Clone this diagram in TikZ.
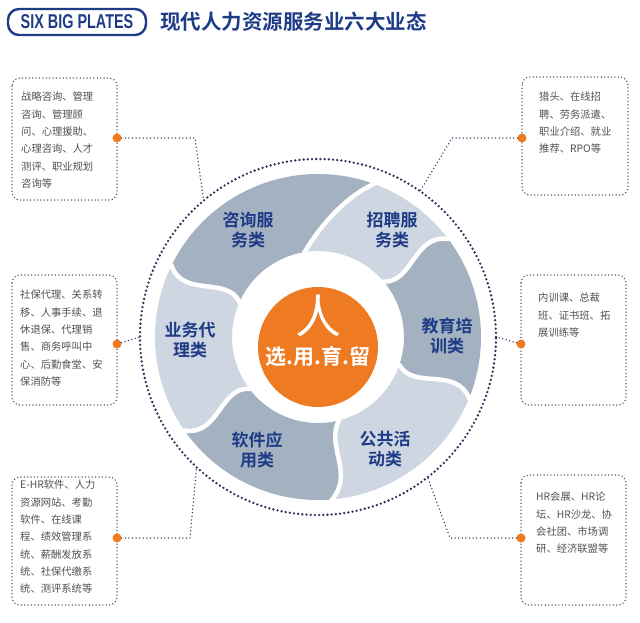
\documentclass[tikz,border=0pt]{standalone}
\usepackage{fontspec}
\setmainfont{Liberation Sans}
\newfontfamily\cjk{Noto Sans CJK SC}
\newfontfamily\cjkb{Noto Sans CJK SC Bold}
\definecolor{navy}{HTML}{1E3C86}
\definecolor{dotc}{HTML}{27355A}
\definecolor{segd}{HTML}{A3B1C1}
\definecolor{segl}{HTML}{CED6E1}
\definecolor{orng}{HTML}{EE7A22}
\definecolor{txtg}{HTML}{505050}
\begin{document}
\begin{tikzpicture}[x=1pt,y=-1pt,
  boxline/.style={draw=txtg!90!black,line width=1.5pt,dash pattern=on 0pt off 3.4pt,line cap=round,rounded corners=8pt},
  conn/.style={draw=dotc,line width=1.5pt,dash pattern=on 0pt off 3.6pt,line cap=round},
  boxtxt/.style={anchor=north west,align=left,inner sep=0pt,text=txtg,font=\cjk\fontsize{10.3}{17.3}\selectfont},
  seglab/.style={align=center,text=navy,inner sep=0pt,font=\cjkb\fontsize{17}{20.5}\selectfont},
  odot/.style={circle,fill=orng,inner sep=0pt,minimum size=9pt}]
\useasboundingbox (0,0) rectangle (640,622);
% title
\draw[navy,line width=2.4pt,rounded corners=11pt] (8,9) rectangle (146,35);
\node[text=navy,inner sep=0pt] (logo) at (77,22) {\scalebox{0.72}[1]{\fontsize{20}{20}\selectfont\bfseries SIX BIG PLATES}};
\node[anchor=west,text=navy,inner sep=0pt,font=\cjkb\fontsize{20.5}{22}\selectfont] (title) at (160,22) {现代人力资源服务业六大业态};
% ring
\begin{scope}[shift={(318,337)},x=1pt,y=1pt]
\def\ro{163}\def\ri{86}
\newcommand\dv[2]{(#1:\ro) .. controls (#1+10:140) and (#2-10:110) .. (#2:\ri)}
\newcommand\dvr[2]{(#2:\ri) .. controls (#2-10:110) and (#1+10:140) .. (#1:\ro)}
% 咨询 D1(70/99) D6(154/156)
\fill[segd] (70:\ro) arc[start angle=70,end angle=154,radius=\ro] .. controls (164:140) and (146:110) .. (156:\ri) arc[start angle=156,end angle=99,radius=\ri] .. controls (89:110) and (80:140) .. cycle;
% 招聘 D2(37/40) D1
\fill[segl] (37:\ro) arc[start angle=37,end angle=70,radius=\ro] .. controls (80:140) and (89:110) .. (99:\ri) arc[start angle=99,end angle=40,radius=\ri] .. controls (30:110) and (47:140) .. cycle;
% 教育 D3(-22/-19) D2
\fill[segd] (-22:\ro) arc[start angle=-22,end angle=37,radius=\ro] .. controls (47:140) and (30:110) .. (40:\ri) arc[start angle=40,end angle=-19,radius=\ri] .. controls (-29:110) and (-12:140) .. cycle;
% 公共 D4(-85/-76) D3
\fill[segl] (-85:\ro) arc[start angle=-85,end angle=-22,radius=\ro] .. controls (-12:140) and (-29:110) .. (-19:\ri) arc[start angle=-19,end angle=-76,radius=\ri] .. controls (-86:110) and (-75:140) .. cycle;
% 软件 D5(-145/-143) D4
\fill[segd] (-145:\ro) arc[start angle=-145,end angle=-85,radius=\ro] .. controls (-75:140) and (-86:110) .. (-76:\ri) arc[start angle=-76,end angle=-143,radius=\ri] .. controls (-153:110) and (-135:140) .. cycle;
% 业务 D6(154/156) D5
\fill[segl] (-206:\ro) arc[start angle=-206,end angle=-145,radius=\ro] .. controls (-135:140) and (-153:110) .. (-143:\ri) arc[start angle=-143,end angle=-204,radius=\ri] .. controls (-214:110) and (-196:140) .. cycle;
% gaps
\foreach \a/\b in {70/99,37/40,-22/-19,-85/-76,-145/-143,154/156}
  \draw[white,line width=4.5pt] (\a:\ro+3) -- (\a:\ro) .. controls (\a+10:140) and (\b-10:110) .. (\b:\ri) -- (\b:\ri-3);
\fill[orng] (0,-10) circle[radius=60];
\draw[dotc,line width=2.6pt,dash pattern=on 0pt off 4.2pt,line cap=round] (0,0) circle[radius=178];
\coordinate (c1) at (130:178);
\coordinate (c2) at (55:178);
\coordinate (c3) at (180:178);
\coordinate (c4) at (0:178);
\coordinate (c5) at (-133:178);
\coordinate (c6) at (-52:178);
\end{scope}
\node[text=white,inner sep=0pt,font=\cjk\fontsize{46}{46}\selectfont] (ren) at (318,316) {人};
\node[text=white,inner sep=0pt,font=\cjkb\fontsize{21}{22}\selectfont] (xy) at (318,356) {选.用.育.留};
\node[seglab] (s1) at (248,230) {咨询服\\务类};
\node[seglab] (s2) at (392,230) {招聘服\\务类};
\node[seglab] (s3) at (447,336) {教育培\\训类};
\node[seglab] (s4) at (385,449) {公共活\\动类};
\node[seglab] (s5) at (257,450) {软件应\\用类};
\node[seglab] (s6) at (190,340) {业务代\\理类};
% boxes
\draw[boxline] (12,78) rectangle (117,200);
\node[boxtxt] (t1) at (21,92) {战略咨询、管理\\咨询、管理顾\\问、心理援助、\\心理咨询、人才\\测评、职业规划\\咨询等};
\draw[boxline] (522,77) rectangle (628,195);
\node[boxtxt] (t2) at (539,92) {猎头、在线招\\聘、劳务派遣、\\职业介绍、就业\\推荐、RPO等};
\draw[boxline] (12,275) rectangle (117,405);
\node[boxtxt] (t3) at (20,290) {社保代理、关系转\\移、人事手续、退\\休退保、代理销\\售、商务呼叫中\\心、后勤食堂、安\\保消防等};
\draw[boxline] (521,275) rectangle (626,405);
\node[boxtxt] (t4) at (538,293) {内训课、总裁\\班、证书班、拓\\展训练等};
\draw[boxline] (12,477) rectangle (117,605);
\node[boxtxt] (t5) at (20,480) {E-HR软件、人力\\资源网站、考勤\\软件、在线课\\程、绩效管理系\\统、薪酬发放系\\统、社保代缴系\\统、测评系统等};
\draw[boxline] (521,475) rectangle (626,605);
\node[boxtxt] (t6) at (536,492) {HR会展、HR论\\坛、HR沙龙、协\\会社团、市场调\\研、经济联盟等};
% connectors
\coordinate (b1) at (195,138);
\coordinate (b2) at (452,138);
\coordinate (b5) at (190,538);
\coordinate (b6) at (450,538);
\node[odot] (d1) at (117,138) {};
\node[odot] (d2) at (522,138) {};
\node[odot] (d3) at (117,344) {};
\node[odot] (d4) at (521,344) {};
\node[odot] (d5) at (117,538) {};
\node[odot] (d6) at (521,538) {};
\draw[conn] (d1) -- (b1) -- (c1);
\draw[conn] (d2) -- (b2) -- (c2);
\draw[conn] (d3) -- (c3);
\draw[conn] (d4) -- (c4);
\draw[conn] (d5) -- (b5) -- (c5);
\draw[conn] (d6) -- (b6) -- (c6);
\end{tikzpicture}
\end{document}
